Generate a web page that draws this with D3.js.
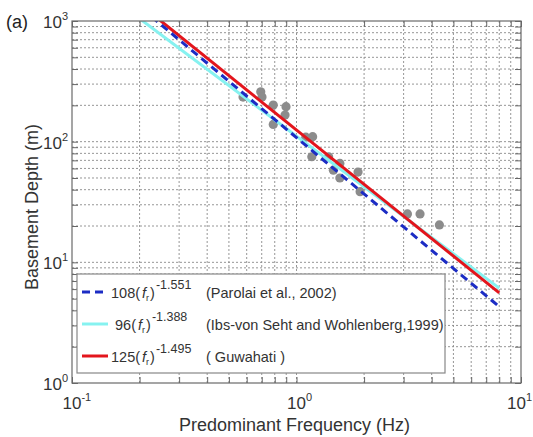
<!DOCTYPE html>
<html>
<head>
<meta charset="utf-8">
<script src="https://cdn.jsdelivr.net/npm/d3@7"></script>
<style>
  body { margin: 0; background: #fff; }
  svg { font-family: "Liberation Sans", Arial, sans-serif; }
</style>
</head>
<body>
<svg id="chart" width="533" height="437"></svg>
<script>
// measured sites (frequency Hz, basement depth m)
const freq  = [0.578, 0.693, 0.702, 0.788, 0.898, 0.889, 0.788, 1.18, 1.10, 1.17, 1.39, 1.56, 1.46, 1.56, 1.88, 1.92, 3.12, 3.55, 4.33];
const depth = [234, 259, 234, 201, 195, 166, 139, 110, 109, 75, 75, 66, 58, 50, 56, 38.5, 25.2, 25.2, 20.4];

// power law fits D = a * f^-b
const fitCoef = ["108", " 96", "125"];
const fitExp = ["-1.551", "-1.388", "-1.495"];
const fitCite = ["(Parolai et al., 2002)", "(Ibs-von Seht and Wohlenberg,1999)", "( Guwahati )"];
// coefficients as the lines are actually drawn in the figure (cyan sits a bit higher than its legend)
const drawnA = [108, 111, 125];
const drawnB = [1.551, 1.394, 1.495];
const fRange = [0.15, 8];

const xTicks = [0.1, 1, 10];
const yTicks = [1, 10, 100, 1000];

const colors = ["#1c2cc4", "#86f2f0", "#e3151c"];

const margin = { top: 21, right: 12, bottom: 54, left: 72 },
      width = 533 - margin.left - margin.right,
      height = 437 - margin.top - margin.bottom;

const svg = d3.select("#chart");
const g = svg.append("g").attr("transform", `translate(${margin.left},${margin.top})`);

const x = d3.scaleLog().domain([0.1, 10]).range([0, width]);
const y = d3.scaleLog().domain([1, 1000]).range([height, 0]);

// every 1..9 value of each decade, for grid and minor ticks
const decadeVals = (lo, hi) => {
  const out = [];
  for (let d = lo; d < hi; d *= 10) for (let k = 1; k <= 9; k++) out.push(k * d);
  out.push(hi);
  return out;
};
const xAll = decadeVals(0.1, 10);
const yAll = decadeVals(1, 1000);

// dotted grid
g.append("g").selectAll("line")
  .data(xAll.filter(v => v > 0.1 && v < 10))
  .join("line")
  .attr("x1", d => x(d)).attr("x2", d => x(d))
  .attr("y1", 0).attr("y2", height)
  .attr("stroke", "#8a8a8a").attr("stroke-width", 0.9)
  .attr("stroke-dasharray", "2,2");

g.append("g").selectAll("line")
  .data(yAll.filter(v => v > 1 && v < 1000))
  .join("line")
  .attr("y1", d => y(d)).attr("y2", d => y(d))
  .attr("x1", 0).attr("x2", width)
  .attr("stroke", "#8a8a8a").attr("stroke-width", 0.9)
  .attr("stroke-dasharray", "2,2");

// inside ticks on all four sides
const tickStyle = sel => {
  sel.select(".domain").remove();
  sel.selectAll("text").remove();
  sel.selectAll("line").attr("stroke", "#666");
};
g.append("g").attr("transform", `translate(0,${height})`)
  .call(d3.axisBottom(x).tickValues(xAll).tickSize(-6)).call(tickStyle);
g.append("g")
  .call(d3.axisTop(x).tickValues(xAll).tickSize(-6)).call(tickStyle);
g.append("g")
  .call(d3.axisLeft(y).tickValues(yAll).tickSize(-6)).call(tickStyle);
g.append("g").attr("transform", `translate(${width},0)`)
  .call(d3.axisRight(y).tickValues(yAll).tickSize(-6)).call(tickStyle);

// data points
g.append("g").selectAll("circle")
  .data(freq.map((f, i) => ({ f, d: depth[i] })))
  .join("circle")
  .attr("cx", d => x(d.f))
  .attr("cy", d => y(d.d))
  .attr("r", 4.6)
  .attr("fill", "#8c8c8c");

// fit lines, clipped to the axes box
svg.append("clipPath").attr("id", "plotClip")
  .append("rect").attr("width", width).attr("height", height);

const line = d3.line().x(d => x(d[0])).y(d => y(d[1]));
const drawOrder = [1, 2, 0];
g.append("g").attr("clip-path", "url(#plotClip)")
  .selectAll("path")
  .data(drawOrder)
  .join("path")
  .attr("d", i => line(fRange.map(f => [f, drawnA[i] * Math.pow(f, -drawnB[i])])))
  .attr("fill", "none")
  .attr("stroke", i => colors[i])
  .attr("stroke-width", 3)
  .attr("stroke-dasharray", i => i === 0 ? "8,5" : null);

// frame
g.append("rect")
  .attr("width", width).attr("height", height)
  .attr("fill", "none").attr("stroke", "#6a6a6a").attr("stroke-width", 1.2);

// tick labels as 10 with superscript exponent
const tenWidth = 19;
g.append("g").selectAll("text")
  .data(xTicks)
  .join("text")
  .attr("x", d => d === 10 ? width + margin.right - 1 : x(d) - tenWidth / 2)
  .attr("text-anchor", d => d === 10 ? "end" : "start")
  .attr("y", height + 26)
  .attr("font-size", 17)
  .attr("fill", "#333")
  .each(function (d) {
    const t = d3.select(this);
    t.append("tspan").text("10");
    t.append("tspan").attr("font-size", 11).attr("dy", -8).text(Math.round(Math.log10(d)));
  });

g.append("g").selectAll("text")
  .data(yTicks)
  .join("text")
  .attr("x", -4)
  .attr("y", d => y(d) + 7)
  .attr("text-anchor", "end")
  .attr("font-size", 17)
  .attr("fill", "#333")
  .each(function (d) {
    const t = d3.select(this);
    t.append("tspan").text("10");
    t.append("tspan").attr("font-size", 11).attr("dy", -8).text(Math.round(Math.log10(d)));
  });

// axis titles
svg.append("text")
  .attr("x", margin.left + width / 2 - 2)
  .attr("y", 431)
  .attr("text-anchor", "middle")
  .attr("font-size", 18)
  .attr("fill", "#333")
  .text("Predominant Frequency (Hz)");

svg.append("text")
  .attr("transform", `translate(38,${margin.top + height / 2 + 5}) rotate(-90)`)
  .attr("text-anchor", "middle")
  .attr("font-size", 18)
  .attr("fill", "#333")
  .text("Basement Depth (m)");

svg.append("text")
  .attr("x", 6).attr("y", 28)
  .attr("font-size", 18)
  .attr("fill", "#222")
  .text("(a)");

// legend
const legend = svg.append("g");
legend.append("rect")
  .attr("x", 77).attr("y", 274)
  .attr("width", 368).attr("height", 99)
  .attr("fill", "#fff").attr("stroke", "#888").attr("stroke-width", 1.2);

const rowY = [292, 324, 356];
fitCoef.forEach((a, i) => {
  legend.append("line")
    .attr("x1", 82).attr("x2", 108)
    .attr("y1", rowY[i]).attr("y2", rowY[i])
    .attr("stroke", colors[i]).attr("stroke-width", 3)
    .attr("stroke-dasharray", i === 0 ? "8,5" : null);

  const t = legend.append("text")
    .attr("x", 111).attr("y", rowY[i] + 6)
    .attr("font-size", 14.5)
    .attr("fill", "#333")
    .attr("xml:space", "preserve");
  t.append("tspan").text(a + "(");
  t.append("tspan").attr("font-style", "italic").attr("dx", 2).text("f");
  t.append("tspan").attr("font-size", 9).attr("dy", 3).text("r");
  t.append("tspan").attr("dy", -3).attr("dx", 1).text(")");
  t.append("tspan").attr("font-size", 12.5).attr("dy", -9).attr("dx", 1).text(fitExp[i]);

  legend.append("text")
    .attr("x", 206).attr("y", rowY[i] + 6)
    .attr("font-size", 14.5)
    .attr("fill", "#333")
    .text(fitCite[i]);
});
</script>
</body>
</html>
